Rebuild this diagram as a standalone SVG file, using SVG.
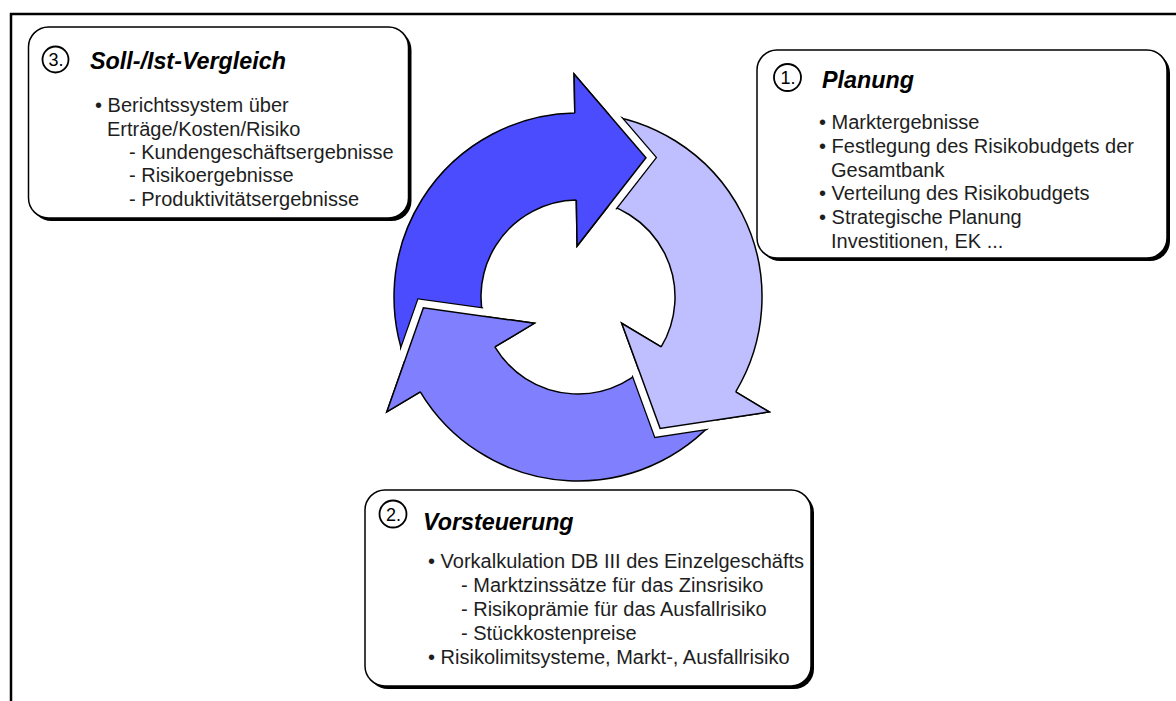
<svg xmlns="http://www.w3.org/2000/svg" width="1176" height="701" viewBox="0 0 1176 701">
<defs>
<style>
.frame{stroke:#000;stroke-width:2.5;fill:none}
.shadow{fill:#000}
.box{fill:#fff;stroke:#000;stroke-width:1.5}
.num{fill:none;stroke:#000;stroke-width:1.8}
.numt{font-family:"Liberation Sans",Arial,sans-serif;font-size:18px;fill:#000;text-anchor:middle}
.title{font-family:"Liberation Sans",Arial,sans-serif;font-size:23.3px;font-weight:bold;font-style:italic;fill:#000}
.body{font-family:"Liberation Sans",Arial,sans-serif;font-size:20px;fill:#1e1e1e}
.arrow{stroke:#000;stroke-width:1.5;stroke-linejoin:miter}
.dark{fill:#4C4CFF}
.light{fill:#BFBFFF}
.mid{fill:#8080FF}
.halo-k{fill:none;stroke:#000;stroke-width:17.5;stroke-linejoin:miter}
.halo-w{fill:none;stroke:#fff;stroke-width:15;stroke-linejoin:miter}
.edge{fill:none;stroke:#000;stroke-width:1.5;stroke-linejoin:miter}
</style>
<path id="pDark" d="M 411.24 374.76 A 184 184 0 0 1 574.79 113.03 L 574.11 74.03 L 645.95 157.69 L 577.11 246.01 L 576.31 200.01 A 97 97 0 0 0 490.09 337.99 Z"/>
<path id="pLight" d="M 594.04 113.70 A 184 184 0 0 1 735.72 391.77 L 769.15 411.85 L 660.14 428.45 L 621.72 323.27 L 661.15 346.96 A 97 97 0 0 0 586.45 200.37 Z"/>
<path id="pMid" d="M 724.95 407.73 A 184 184 0 0 1 420.28 391.77 L 386.85 411.85 L 423.38 307.81 L 534.28 323.27 L 494.85 346.96 A 97 97 0 0 0 655.47 355.38 Z"/>
<mask id="mDark" maskUnits="userSpaceOnUse" x="0" y="0" width="1176" height="701"><use href="#pDark" fill="#fff" stroke="#fff" stroke-width="3"/></mask>
<mask id="mLight" maskUnits="userSpaceOnUse" x="0" y="0" width="1176" height="701"><use href="#pLight" fill="#fff" stroke="#fff" stroke-width="3"/></mask>
<mask id="mMid" maskUnits="userSpaceOnUse" x="0" y="0" width="1176" height="701"><use href="#pMid" fill="#fff" stroke="#fff" stroke-width="3"/></mask>
</defs>
<rect x="0" y="0" width="1176" height="701" fill="#fff"/>
<polyline class="frame" points="11,701 11,14 1176,14"/>

<g id="connectors">
  <use href="#pMid" class="arrow mid"/>
  <use href="#pLight" class="arrow light"/>
  <use href="#pDark" class="arrow dark"/>
  <g mask="url(#mDark)">
    <polyline class="halo-k" points="386.85,411.85 423.38,307.81 534.28,323.27"/>
    <polyline class="halo-w" points="386.85,411.85 423.38,307.81 534.28,323.27"/>
  </g>
  <g mask="url(#mMid)">
    <polyline class="halo-k" points="769.15,411.85 660.14,428.45 621.72,323.27"/>
    <polyline class="halo-w" points="769.15,411.85 660.14,428.45 621.72,323.27"/>
  </g>
  <g mask="url(#mLight)">
    <polyline class="halo-k" points="574.11,74.03 645.95,157.69 577.11,246.01"/>
    <polyline class="halo-w" points="574.11,74.03 645.95,157.69 577.11,246.01"/>
  </g>
  <polygon class="mid" points="386.85,411.85 423.38,307.81 534.28,323.27"/>
  <polyline class="edge" points="420.28,391.77 386.85,411.85 423.38,307.81 534.28,323.27 494.85,346.96"/>
  <polygon class="light" points="769.15,411.85 660.14,428.45 621.72,323.27"/>
  <polyline class="edge" points="735.72,391.77 769.15,411.85 660.14,428.45 621.72,323.27 661.15,346.96"/>
  <polygon class="dark" points="574.11,74.03 645.95,157.69 577.11,246.01"/>
  <polyline class="edge" points="574.79,113.03 574.11,74.03 645.95,157.69 577.11,246.01 576.31,200.01"/>
</g>

<g id="box-soll-ist">
  <rect class="shadow" x="31.5" y="30" width="380" height="191" rx="20"/>
  <rect class="box" x="28.5" y="27" width="380" height="191" rx="20"/>
  <circle class="num" cx="55.5" cy="59.5" r="13"/>
  <text class="numt" x="56" y="66">3.</text>
  <text class="title" x="90" y="69">Soll-/Ist-Vergleich</text>
  <text class="body" x="95" y="112">• Berichtssystem über</text>
  <text class="body" x="107" y="135.5">Erträge/Kosten/Risiko</text>
  <text class="body" x="129" y="159">- Kundengeschäftsergebnisse</text>
  <text class="body" x="129" y="182">- Risikoergebnisse</text>
  <text class="body" x="129" y="205.5">- Produktivitätsergebnisse</text>
</g>

<g id="box-planung">
  <rect class="shadow" x="760" y="53" width="410" height="208" rx="20"/>
  <rect class="box" x="757" y="50" width="410" height="208" rx="20"/>
  <circle class="num" cx="787.5" cy="77.5" r="13.5"/>
  <text class="numt" x="788" y="84">1.</text>
  <text class="title" x="822" y="88">Planung</text>
  <text class="body" x="819" y="129">• Marktergebnisse</text>
  <text class="body" x="819" y="152.8">• Festlegung des Risikobudgets der</text>
  <text class="body" x="831" y="176.6">Gesamtbank</text>
  <text class="body" x="819" y="200.4">• Verteilung des Risikobudgets</text>
  <text class="body" x="819" y="224.2">• Strategische Planung</text>
  <text class="body" x="831" y="248">Investitionen, EK ...</text>
</g>

<g id="box-vorsteuerung">
  <rect class="shadow" x="368" y="493" width="446" height="196" rx="20"/>
  <rect class="box" x="365" y="490" width="446" height="196" rx="20"/>
  <circle class="num" cx="393" cy="514" r="13.5"/>
  <text class="numt" x="393.5" y="520.5">2.</text>
  <text class="title" x="423" y="529.5">Vorsteuerung</text>
  <text class="body" x="428" y="568">• Vorkalkulation DB III des Einzelgeschäfts</text>
  <text class="body" x="461" y="592">- Marktzinssätze für das Zinsrisiko</text>
  <text class="body" x="461" y="616">- Risikoprämie für das Ausfallrisiko</text>
  <text class="body" x="461" y="640">- Stückkostenpreise</text>
  <text class="body" x="428" y="664">• Risikolimitsysteme, Markt-, Ausfallrisiko</text>
</g>
</svg>
